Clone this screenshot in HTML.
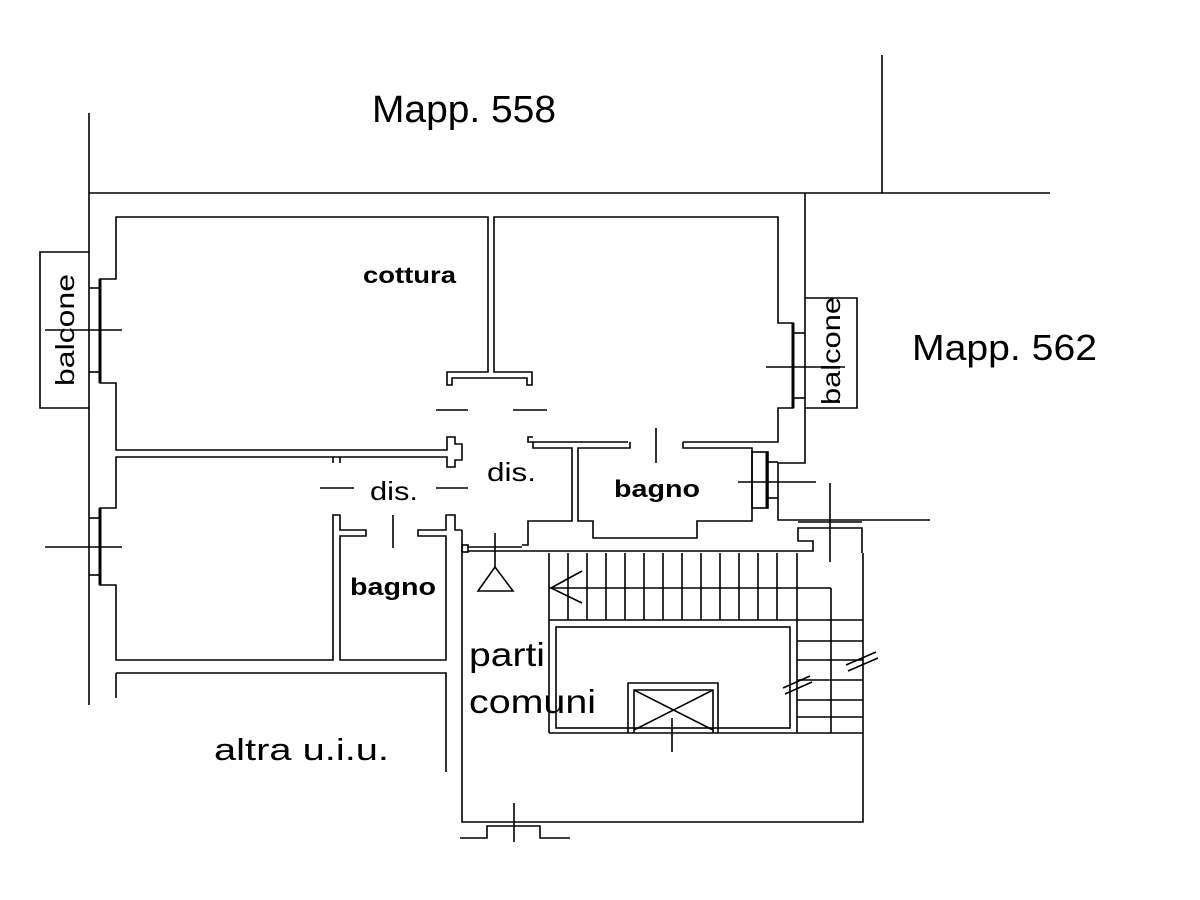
<!DOCTYPE html>
<html><head><meta charset="utf-8"><style>
html,body{margin:0;padding:0;background:#fff;}
svg{display:block;}
text{font-family:"Liberation Sans",Arial,sans-serif;fill:#000;}
</style></head><body>
<svg width="1200" height="900" viewBox="0 0 1200 900" xmlns="http://www.w3.org/2000/svg">
<g fill="none" stroke="#000" stroke-width="1.6">
<line x1="89" y1="113" x2="89" y2="705"/>
<line x1="89" y1="193" x2="1050" y2="193"/>
<line x1="882" y1="55" x2="882" y2="193"/>
<polyline points="805,193 805,463 778,463 778,520 930,520"/>
<polyline points="89,252 40,252 40,408 89,408"/>
<line x1="89" y1="288" x2="100" y2="288"/><line x1="89" y1="372" x2="100" y2="372"/>
<line x1="45" y1="330" x2="122" y2="330"/>
<polyline points="488,365 488,217 116,217 116,279 100,279 100,383 116,383 116,450 447,450 447,437 455,437 455,444 462,444 462,460 455,460 455,467 447,467 447,457 116,457 116,508 100,508 100,585 116,585 116,660 333,660 333,515 340,515 340,530 366,530 366,536 340,536 340,660 446,660 446,536 418,536 418,530 446,530 446,515 455,515 455,530 462,530"/>
<line x1="100" y1="279" x2="100" y2="383" stroke-width="3"/>
<line x1="100" y1="508" x2="100" y2="585" stroke-width="3"/>
<line x1="89" y1="518" x2="100" y2="518"/><line x1="89" y1="575" x2="100" y2="575"/>
<line x1="45" y1="547" x2="122" y2="547"/>
<line x1="333" y1="457" x2="333" y2="463"/><line x1="340" y1="457" x2="340" y2="463"/>
<polyline points="488,365 488,372 447,372 447,385 452,385 452,378 527,378 527,385 532,385 532,372 494,372 494,217 778,217 778,323 793,323 793,408 778,408 778,442 683,442"/>
<line x1="793" y1="323" x2="793" y2="408" stroke-width="3"/>
<line x1="793" y1="333" x2="805" y2="333"/><line x1="793" y1="398" x2="805" y2="398"/>
<polyline points="805,298 857,298 857,408 805,408"/>
<line x1="766" y1="367" x2="845" y2="367"/>
<line x1="436" y1="410" x2="468" y2="410"/><line x1="513" y1="410" x2="547" y2="410"/>
<line x1="320" y1="488" x2="354" y2="488"/><line x1="436" y1="488" x2="468" y2="488"/>
<line x1="393" y1="515" x2="393" y2="548"/>
<line x1="656" y1="428" x2="656" y2="463"/>
<polyline points="628,442 528,442 528,437 533,437"/>
<polyline points="533,442 533,448 572,448 572,521 528,521 528,545 522,545"/>
<polyline points="630,442 630,448 578,448 578,521 593,521 593,538 697,538 697,521 752,521 752,448 683,448 683,442"/>
<rect x="752" y="452" width="16" height="56"/>
<line x1="767" y1="452" x2="767" y2="508" stroke-width="3"/>
<line x1="768" y1="462" x2="778" y2="462"/><line x1="768" y1="498" x2="778" y2="498"/>
<line x1="738" y1="482" x2="816" y2="482"/>
<line x1="830" y1="483" x2="830" y2="562"/>
<rect x="462" y="545" width="6" height="7"/>
<line x1="468" y1="547" x2="522" y2="547"/><line x1="468" y1="551" x2="522" y2="551"/>
<line x1="495" y1="533" x2="495" y2="568"/>
<polygon points="478,591 495,567 513,591"/>
<polyline points="522,551 813,551 813,541 798,541 798,528 862,528 862,553"/>
<line x1="798" y1="522" x2="862" y2="522"/>
<polyline points="462,530 462,822 863,822 863,553"/>
<polyline points="460,838 487,838 487,826 540,826 540,838 570,838"/>
<line x1="514" y1="803" x2="514" y2="842"/>
<line x1="116" y1="698" x2="116" y2="673"/>
<polyline points="116,673 446,673 446,772"/>
<line x1="549" y1="553" x2="549" y2="733"/>
<line x1="549" y1="620" x2="863" y2="620"/>
<line x1="549" y1="733" x2="863" y2="733"/>
<line x1="549" y1="588" x2="831" y2="588"/>
<line x1="797" y1="553" x2="797" y2="733"/>
<line x1="831" y1="588" x2="831" y2="733"/>
<g>
<line x1="568" y1="553" x2="568" y2="620"/><line x1="587" y1="553" x2="587" y2="620"/>
<line x1="606" y1="553" x2="606" y2="620"/><line x1="625" y1="553" x2="625" y2="620"/>
<line x1="644" y1="553" x2="644" y2="620"/><line x1="663" y1="553" x2="663" y2="620"/>
<line x1="682" y1="553" x2="682" y2="620"/><line x1="701" y1="553" x2="701" y2="620"/>
<line x1="720" y1="553" x2="720" y2="620"/><line x1="739" y1="553" x2="739" y2="620"/>
<line x1="758" y1="553" x2="758" y2="620"/><line x1="777" y1="553" x2="777" y2="620"/>
</g>
<line x1="797" y1="641" x2="863" y2="641"/><line x1="797" y1="660" x2="863" y2="660"/>
<line x1="797" y1="680" x2="863" y2="680"/><line x1="797" y1="700" x2="863" y2="700"/>
<line x1="797" y1="717" x2="863" y2="717"/>
<polyline points="582,571 551,588 582,603"/>
<rect x="556" y="627" width="234" height="101"/>
<polyline points="628,733 628,683 718,683 718,733"/>
<polyline points="634,733 634,690 713,690 713,733"/>
<line x1="634" y1="690" x2="713" y2="730"/><line x1="713" y1="690" x2="634" y2="730"/>
<line x1="672" y1="718" x2="672" y2="752"/>
<line x1="783" y1="688" x2="810" y2="676"/><line x1="785" y1="694" x2="812" y2="682"/>
<line x1="846" y1="665" x2="876" y2="652"/><line x1="848" y1="671" x2="878" y2="658"/>
</g>
<g>
<text x="372" y="122" font-size="38" textLength="184" lengthAdjust="spacingAndGlyphs">Mapp. 558</text>
<text x="912" y="360" font-size="36" textLength="185" lengthAdjust="spacingAndGlyphs">Mapp. 562</text>
<text x="363" y="283" font-size="23" font-weight="bold" textLength="93" lengthAdjust="spacingAndGlyphs">cottura</text>
<text x="370" y="500" font-size="26" textLength="48" lengthAdjust="spacingAndGlyphs">dis.</text>
<text x="487" y="481" font-size="26" textLength="49" lengthAdjust="spacingAndGlyphs">dis.</text>
<text x="614" y="497" font-size="24" font-weight="bold" textLength="86" lengthAdjust="spacingAndGlyphs">bagno</text>
<text x="350" y="595" font-size="24" font-weight="bold" textLength="86" lengthAdjust="spacingAndGlyphs">bagno</text>
<text x="469" y="666" font-size="33" textLength="76" lengthAdjust="spacingAndGlyphs">parti</text>
<text x="469" y="713" font-size="33" textLength="127" lengthAdjust="spacingAndGlyphs">comuni</text>
<text x="214" y="760" font-size="31" textLength="175" lengthAdjust="spacingAndGlyphs">altra u.i.u.</text>
<text transform="translate(74,330) rotate(-90)" text-anchor="middle" font-size="26" textLength="112" lengthAdjust="spacingAndGlyphs">balcone</text>
<text transform="translate(840,351) rotate(-90)" text-anchor="middle" font-size="26" textLength="108" lengthAdjust="spacingAndGlyphs">balcone</text>
</g>
</svg>
</body></html>
